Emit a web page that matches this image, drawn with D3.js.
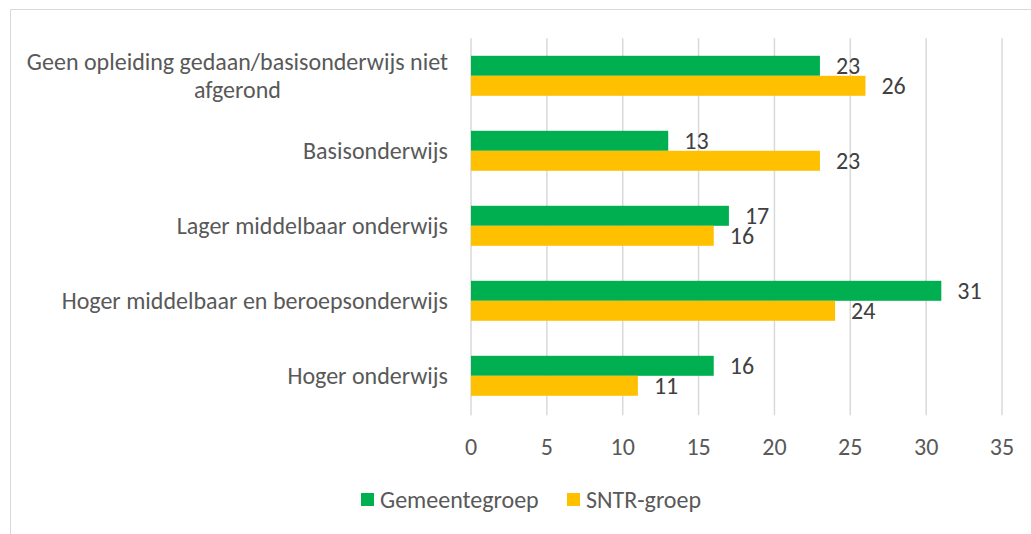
<!DOCTYPE html>
<html>
<head>
<meta charset="utf-8">
<script src="https://cdn.jsdelivr.net/npm/d3@7"></script>
<style>
  body { margin: 0; background: #fff; }
  svg text { font-family: Carlito, Calibri, Lato, sans-serif; }
</style>
</head>
<body>
<svg id="chart" width="1031" height="534"></svg>
<script>
// data
var categories = [
  ["Geen opleiding gedaan/basisonderwijs niet", "afgerond"],
  ["Basisonderwijs"],
  ["Lager middelbaar onderwijs"],
  ["Hoger middelbaar en beroepsonderwijs"],
  ["Hoger onderwijs"]
];
var seriesNames = ["Gemeentegroep", "SNTR-groep"];
var gemeente = [23, 13, 17, 31, 16];
var sntr = [26, 23, 16, 24, 11];
var xTicks = [0, 5, 10, 15, 20, 25, 30, 35];
var colors = ["#00B050", "#FFC000"];

var svg = d3.select("#chart");
var plotLeft = 471, plotRight = 1002, plotTop = 38.3, plotBottom = 413.3;
var fs = 24;

// outer frame (only top and left visible)
svg.append("path").attr("d", "M10.5,534 L10.5,9.5 L1031,9.5")
  .attr("fill", "none").attr("stroke", "#d9d9d9").attr("stroke-width", 1);

var x = d3.scaleLinear().domain([0, 35]).range([plotLeft, plotRight]);
var y = d3.scaleBand().domain(d3.range(categories.length)).range([plotTop, plotBottom])
  .paddingInner(0.4667).paddingOuter(0.2333);
var ySub = d3.scaleBand().domain([0, 1]).range([0, y.bandwidth()]);

// gridlines
svg.append("g").selectAll("line").data(xTicks).enter().append("line")
  .attr("x1", function(d) { return x(d); }).attr("x2", function(d) { return x(d); })
  .attr("y1", plotTop).attr("y2", plotBottom + 2)
  .attr("stroke", "#d9d9d9").attr("stroke-width", 1.5);

// tick labels
svg.append("g").selectAll("text").data(xTicks).enter().append("text")
  .attr("x", function(d) { return x(d); }).attr("y", 447)
  .attr("dy", "0.35em")
  .attr("text-anchor", "middle").attr("font-size", fs).attr("fill", "#595959")
  .text(function(d) { return d; });

var rows = categories.map(function(c, i) { return { i: i, vals: [gemeente[i], sntr[i]] }; });

var groups = svg.append("g").selectAll("g").data(rows).enter().append("g")
  .attr("transform", function(d) { return "translate(0," + y(d.i) + ")"; });

groups.selectAll("rect").data(function(d) { return d.vals; }).enter().append("rect")
  .attr("x", x(0)).attr("y", function(d, j) { return ySub(j); })
  .attr("width", function(d) { return x(d) - x(0); })
  .attr("height", ySub.bandwidth())
  .attr("fill", function(d, j) { return colors[j]; });

groups.selectAll("text.val").data(function(d) { return d.vals; }).enter().append("text")
  .attr("class", "val")
  .attr("x", function(d) { return x(d) + 16; })
  .attr("y", function(d, j) { return ySub(j) + ySub.bandwidth() / 2; })
  .attr("dy", "0.35em").attr("font-size", fs).attr("fill", "#404040")
  .text(function(d) { return d; });

// category labels: block right-aligned, lines centred inside the block
svg.append("g").selectAll("g").data(categories).enter().append("g")
  .each(function(lines, i) {
    var g = d3.select(this);
    var cy = y(i) + y.bandwidth() / 2;
    var lh = 28;
    var t = g.selectAll("text").data(lines).enter().append("text")
      .attr("font-size", fs).attr("fill", "#595959").attr("text-anchor", "middle")
      .attr("dy", "0.35em")
      .attr("y", function(d, k) { return cy + (k - (lines.length - 1) / 2) * lh; })
      .text(function(d) { return d; });
    var w = d3.max(t.nodes(), function(n) { return n.getComputedTextLength(); });
    t.attr("x", 448 - w / 2);
  });

// legend
var lg = svg.append("g").attr("transform", "translate(361,493)");
var legendX = [0, 206];
seriesNames.forEach(function(name, j) {
  lg.append("rect").attr("x", legendX[j]).attr("y", 0).attr("width", 13).attr("height", 13)
    .attr("fill", colors[j]);
  lg.append("text").attr("x", legendX[j] + 19).attr("y", 7).attr("dy", "0.35em")
    .attr("font-size", fs).attr("fill", "#595959").text(name);
});
</script>
</body>
</html>
